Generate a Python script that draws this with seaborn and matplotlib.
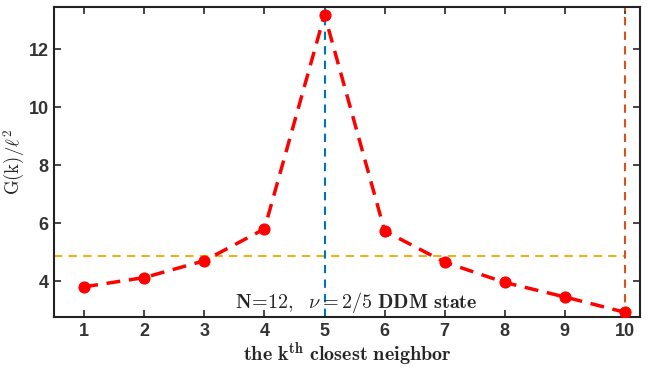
import numpy as np
import pandas as pd
import matplotlib
matplotlib.use('Agg')
import matplotlib.pyplot as plt
import seaborn as sns

# values
k = [1, 2, 3, 4, 5, 6, 7, 8, 9, 10]
g = [3.80, 4.12, 4.70, 5.80, 13.20, 5.73, 4.65, 3.95, 3.45, 2.92]
g_ref = 4.85  # horizontal reference level
k_peak = 5
k_max = 10

sns.set_style('ticks')
plt.rcParams['font.family'] = ['Liberation Sans', 'DejaVu Sans']
plt.rcParams['mathtext.fontset'] = 'cm'

df = pd.DataFrame({'k': k, 'G': g})

fig, ax = plt.subplots(figsize=(6.53, 3.68), dpi=100)

ax.axhline(g_ref, xmax=(k_max - 0.5) / (10.25 - 0.5), color='#EDB120', ls=(0, (4, 3)), lw=1.5, zorder=1)
ax.axvline(k_peak, color='#0072BD', ls=(0, (4, 3)), lw=1.5, zorder=1)
ax.axvline(k_max, color='#D95319', ls=(0, (4, 3)), lw=1.5, zorder=1)

sns.lineplot(data=df, x='k', y='G', ax=ax, color='red', lw=2.5, ls=(0, (4, 2.5)),
             marker='o', markersize=8, markeredgecolor='red', zorder=3)

ax.set_xlim(0.5, 10.25)
ax.set_ylim(2.75, 13.45)
ax.set_xticks(k)
ax.set_yticks([4, 6, 8, 10, 12])
ax.tick_params(direction='in', length=5, width=1.2, top=True, right=True, labelsize=13, pad=4)
for lab in ax.get_xticklabels() + ax.get_yticklabels():
    lab.set_fontweight('bold')
    lab.set_color('#333333')
for sp in ax.spines.values():
    sp.set_visible(True)
    sp.set_linewidth(1.5)
    sp.set_color('#222222')

ax.set_xlabel(r'$\mathbf{the\ k^{th}\ closest\ neighbor}$', fontsize=14.5, labelpad=0.5)
ax.set_ylabel(r'$\mathrm{G(k)}/\ell^2$', fontsize=13.5, labelpad=1)
ax.text(5.53, 3.27, r'$\mathbf{N\!=\!12,}\ \ \nu\mathbf{=2/5\ DDM\ state}$',
        fontsize=14.5, ha='center', va='center')

fig.subplots_adjust(left=0.083, right=0.98, bottom=0.138, top=0.98)
fig.savefig('out.png', dpi=100)
